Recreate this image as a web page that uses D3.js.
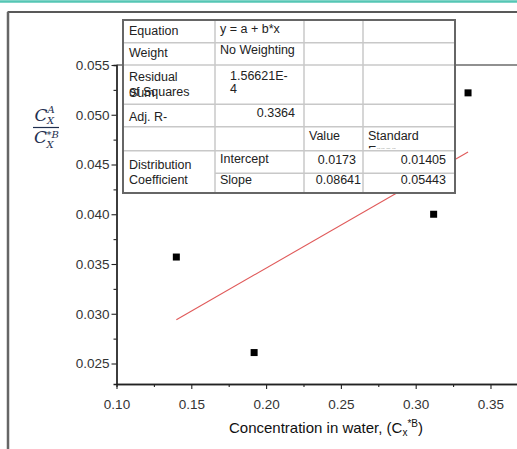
<!DOCTYPE html>
<html>
<head>
<meta charset="utf-8">
<script src="https://cdn.jsdelivr.net/npm/d3@7"></script>
<style>
  html, body { margin: 0; padding: 0; background: #fff; }
  svg { display: block; font-family: "Liberation Sans", Arial, sans-serif; }
</style>
</head>
<body>
<svg id="chart" width="517" height="449"></svg>
<script>
// Measured points: concentration in water vs distribution coefficient
const concWater = [0.140, 0.192, 0.312, 0.335];
const distCoef  = [0.0357, 0.0261, 0.0400, 0.0522];

// Linear fit y = a + b*x
const fitIntercept = 0.0173;
const fitSlope = 0.08641;

// Axis ticks
const xTicks = [0.10, 0.15, 0.20, 0.25, 0.30, 0.35];
const xMinorTicks = [0.125, 0.175, 0.225, 0.275, 0.325];
const yTicks = [0.025, 0.030, 0.035, 0.040, 0.045, 0.050, 0.055];
const yMinorTicks = [0.0275, 0.0325, 0.0375, 0.0425, 0.0475, 0.0525];

// Fit statistics table
const tableRows = [
  ["Equation", "y = a + b*x"],
  ["Weight", "No Weighting"],
  ["Residual Sum of Squares", "1.56621E-4"],
  ["Adj. R-Square", "0.3364"]
];
const paramHeader = ["Value", "Standard Error"];
const paramNames = ["Intercept", "Slope"];
const paramValues = ["0.0173", "0.08641"];
const paramErrors = ["0.01405", "0.05443"];

const svg = d3.select("#chart");
const ink = "#222";

// Page chrome: accent rule and outer frame
svg.append("line").attr("x1", 0).attr("x2", 517).attr("y1", 1.5).attr("y2", 1.5)
  .attr("stroke", "#55c6b4").attr("stroke-width", 2.5);
svg.append("line").attr("x1", 7.5).attr("x2", 517).attr("y1", 12).attr("y2", 12)
  .attr("stroke", "#222").attr("stroke-width", 1.5);
svg.append("line").attr("x1", 8).attr("x2", 8).attr("y1", 12).attr("y2", 449)
  .attr("stroke", "#666").attr("stroke-width", 2.5);

// Scales
const x = d3.scaleLinear().domain([0.10, 0.37]).range([116.5, 520.4]);
const y = d3.scaleLinear().domain([0.02294, 0.055]).range([384, 65]);

// Plot top border
svg.append("line").attr("x1", 116.5).attr("x2", 517).attr("y1", 65).attr("y2", 65)
  .attr("stroke", ink).attr("stroke-width", 1.2);

// Axes (minor ticks first, then major with labels)
function styleAxis(g) {
  g.select(".domain").attr("stroke", ink).attr("stroke-width", 1.3);
  g.selectAll(".tick line").attr("stroke", ink).attr("stroke-width", 1.1);
  g.selectAll(".tick text").attr("fill", "#333").attr("font-size", "13.5px")
    .attr("font-family", "'Liberation Sans', Arial, sans-serif");
}

svg.append("g").attr("transform", "translate(0,384)")
  .call(d3.axisBottom(x).tickValues(xMinorTicks).tickSize(3).tickFormat(""))
  .call(styleAxis);
svg.append("g").attr("transform", "translate(0,384)")
  .call(d3.axisBottom(x).tickValues(xTicks).tickSize(5).tickSizeOuter(0)
    .tickPadding(10).tickFormat(d3.format(".2f")))
  .call(styleAxis);

svg.append("g").attr("transform", "translate(116.5,0)")
  .call(d3.axisLeft(y).tickValues(yMinorTicks).tickSize(3).tickFormat(""))
  .call(styleAxis);
svg.append("g").attr("transform", "translate(116.5,0)")
  .call(d3.axisLeft(y).tickValues(yTicks).tickSize(5).tickSizeOuter(0)
    .tickPadding(2).tickFormat(d3.format(".3f")))
  .call(styleAxis);

// Fitted line over the data range
const xExt = d3.extent(concWater);
svg.append("line")
  .attr("x1", x(xExt[0])).attr("y1", y(fitIntercept + fitSlope * xExt[0]))
  .attr("x2", x(xExt[1])).attr("y2", y(fitIntercept + fitSlope * xExt[1]))
  .attr("stroke", "#e05a5a").attr("stroke-width", 1.1);

// Data points as squares
svg.append("g").selectAll("rect")
  .data(concWater.map((v, i) => [v, distCoef[i]]))
  .join("rect")
  .attr("x", d => x(d[0]) - 3.5).attr("y", d => y(d[1]) - 3.5)
  .attr("width", 7).attr("height", 7).attr("fill", "#000");

// Axis titles
const xt = svg.append("text").attr("x", 326).attr("y", 433).attr("text-anchor", "middle")
  .attr("font-size", "15px").attr("fill", "#111");
xt.append("tspan").text("Concentration in water, (C");
xt.append("tspan").attr("font-size", "10px").attr("dy", 3).text("x");
xt.append("tspan").attr("font-size", "10px").attr("dy", -9).text("*B");
xt.append("tspan").attr("dy", 6).text(")");

const fracColor = "#1f2f4f";
const frac = svg.append("g").attr("fill", fracColor)
  .attr("font-family", "'DejaVu Serif', 'Liberation Serif', serif").attr("font-style", "italic");
frac.append("text").attr("x", 34.5).attr("y", 121).attr("font-size", "17px").text("C");
frac.append("text").attr("x", 47.5).attr("y", 113).attr("font-size", "10px").text("A");
frac.append("text").attr("x", 47).attr("y", 124).attr("font-size", "10px").text("X");
frac.append("line").attr("x1", 33).attr("x2", 59).attr("y1", 127.5).attr("y2", 127.5)
  .attr("stroke", fracColor).attr("stroke-width", 1.2);
frac.append("text").attr("x", 34).attr("y", 143).attr("font-size", "17px").text("C");
frac.append("text").attr("x", 46.5).attr("y", 137.5).attr("font-size", "10px").text("*B");
frac.append("text").attr("x", 46.5).attr("y", 148).attr("font-size", "10px").text("X");

// Fit statistics table
const T = { left: 123, right: 455, top: 20, bottom: 193 };
const colX = [123, 215, 304, 363, 455];
const rowY = [20, 42.7, 65, 104.3, 126.7, 150.7, 173.3, 193];
const tbl = svg.append("g");
tbl.append("rect").attr("x", T.left).attr("y", T.top)
  .attr("width", T.right - T.left).attr("height", T.bottom - T.top).attr("fill", "#fff");

const grid = "#c8c8c8";
// horizontal separators (the Intercept/Slope split skips the first column)
rowY.slice(1, -1).forEach((yy, i) => {
  const x1 = (i + 1 === 6) ? colX[1] : T.left;
  tbl.append("line").attr("x1", x1).attr("x2", T.right).attr("y1", yy).attr("y2", yy)
    .attr("stroke", grid).attr("stroke-width", 1.5);
});
colX.slice(1, -1).forEach(xx => {
  tbl.append("line").attr("x1", xx).attr("x2", xx).attr("y1", T.top).attr("y2", T.bottom)
    .attr("stroke", grid).attr("stroke-width", 1.5);
});
tbl.append("rect").attr("x", T.left).attr("y", T.top)
  .attr("width", T.right - T.left).attr("height", T.bottom - T.top)
  .attr("fill", "none").attr("stroke", "#666").attr("stroke-width", 2);

const tFont = "12.5px";
function cell(txt, xx, yy, anchor) {
  return tbl.append("text").attr("x", xx).attr("y", yy).attr("font-size", tFont)
    .attr("fill", ink).attr("text-anchor", anchor || "start").text(txt);
}

// Clip paths so wrapped text is cut at cell edges
const defs = svg.append("defs");
function clipCell(id, c0, c1, r0, r1) {
  defs.append("clipPath").attr("id", id).append("rect")
    .attr("x", c0).attr("y", r0).attr("width", c1 - c0).attr("height", r1 - r0);
  return "url(#" + id + ")";
}

cell(tableRows[0][0], 129, 35);
cell(tableRows[0][1], 220, 33);
cell(tableRows[1][0], 129, 57);
cell(tableRows[1][1], 220, 54);

// Residual Sum of Squares wraps, its second and third lines crowd together
const rssWords = tableRows[2][0].split(" ");
cell(rssWords[0], 129, 80.5);
const rssTail = cell(rssWords.slice(2).join(" "), 129, 95.5);
rssTail.append("tspan").attr("x", 129).attr("dy", 1.5).text(rssWords[1]);
const rss = tableRows[2][1];
cell(rss.slice(0, rss.length - 1), 230, 80);
cell(rss.slice(-1), 230, 93);

const adjClip = clipCell("adjclip", colX[0], colX[1], rowY[3], rowY[4] - 2);
const adj = tableRows[3][0].split("-");
const adjText = cell(adj[0] + "-", 129, 121).attr("clip-path", adjClip);
adjText.append("tspan").attr("x", 129).attr("dy", 14).text(adj[1]);
cell(tableRows[3][1], 295, 117, "end");

cell(paramHeader[0], 309, 139.5);
const seClip = clipCell("seclip", colX[3], colX[4], rowY[4], rowY[5] - 2.5);
const se = paramHeader[1].split(" ");
const seText = cell(se[0], 368, 139.5).attr("clip-path", seClip);
seText.append("tspan").attr("x", 368).attr("dy", 15.5).text(se[1]);

cell("Distribution", 129, 168.5);
cell("Coefficient", 129, 184);
cell(paramNames[0], 220, 163);
cell(paramNames[1], 220, 183.5);
cell(paramValues[0], 356, 164, "end");
cell(paramValues[1], 361, 184, "end");
cell(paramErrors[0], 446, 164, "end");
cell(paramErrors[1], 446, 184, "end");
</script>
</body>
</html>
